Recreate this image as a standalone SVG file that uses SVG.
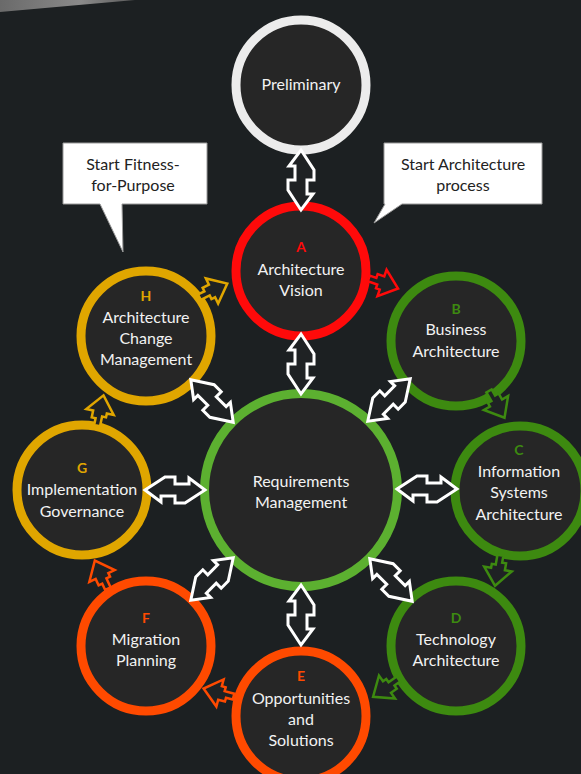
<svg xmlns="http://www.w3.org/2000/svg" width="581" height="774" viewBox="0 0 581 774">
<defs>
<linearGradient id="sw" x1="0" y1="0" x2="1" y2="0"><stop offset="0" stop-color="#6a6a6a"/><stop offset="0.6" stop-color="#8a8a8a"/><stop offset="1" stop-color="#5a5a5a"/></linearGradient>
<path id="dbl" d="M-30,0 L-10,-13 L0,-13 L0,-6 L14,-6 L14,-12 L30,0 L10,13 L0,13 L0,6 L-14,6 L-14,12 Z"/>
<path id="sgl" d="M-14,-3 L-7,-3 L-7,-7 L0,-7 L0,-14 L17,0 L0,14 L0,7 L-4,7 L-4,3 L-14,3 Z"/>
</defs>
<style>
.ring{fill:#262626;stroke-width:9}
.t{font-family:Lato,"Noto Sans",sans-serif;font-size:16px;fill:#f2f2f2;text-anchor:middle}
.l{font-family:Lato,"Noto Sans",sans-serif;font-size:14px;font-weight:bold;text-anchor:middle}
.c{font-family:Lato,"Noto Sans",sans-serif;font-size:16px;fill:#222;text-anchor:middle}
.da{fill:#1f2224;stroke:#ffffff;stroke-width:3;stroke-linejoin:miter}
.sa{fill:#1f2224;stroke-width:2.5;stroke-linejoin:miter}
</style>
<rect x="0" y="0" width="581" height="774" fill="#1c2022"/>
<polygon points="0,0 135,0 0,12" fill="url(#sw)"/>

<g id="callout-left">
<path d="M63,143 H207 V204 H122 L123,252 L100,204 H63 Z" fill="#ffffff" stroke="#9a9a9a" stroke-width="1"/>
<text class="c" x="133" y="170">Start Fitness-</text>
<text class="c" x="133" y="191">for-Purpose</text>
</g>
<g id="callout-right">
<path d="M384,143 H542 V204 H402 L374,223 L385,204 H384 Z" fill="#ffffff" stroke="#9a9a9a" stroke-width="1"/>
<text class="c" x="463" y="170">Start Architecture</text>
<text class="c" x="463" y="191">process</text>
</g>

<g id="preliminary">
<circle class="ring" cx="301" cy="85" r="65" stroke="#ececec"/>
<text class="t" x="301" y="90">Preliminary</text>
</g>
<g id="nodeA">
<circle class="ring" cx="301" cy="271" r="65" stroke="#ff0a0a"/>
<text class="l" x="301" y="252" fill="#ff0a0a">A</text>
<text class="t" x="301" y="275">Architecture</text>
<text class="t" x="301" y="296">Vision</text>
</g>
<g id="nodeB">
<circle class="ring" cx="456" cy="341" r="65" stroke="#3d8a10"/>
<text class="l" x="456" y="314" fill="#3d8a10">B</text>
<text class="t" x="456" y="335">Business</text>
<text class="t" x="456" y="357">Architecture</text>
</g>
<g id="nodeC">
<circle class="ring" cx="520" cy="491" r="65" stroke="#3d8a10"/>
<text class="l" x="519" y="455" fill="#3d8a10">C</text>
<text class="t" x="519" y="477">Information</text>
<text class="t" x="519" y="498">Systems</text>
<text class="t" x="519" y="520">Architecture</text>
</g>
<g id="nodeD">
<circle class="ring" cx="456" cy="646" r="65" stroke="#3d8a10"/>
<text class="l" x="456" y="623" fill="#3d8a10">D</text>
<text class="t" x="456" y="645">Technology</text>
<text class="t" x="456" y="666">Architecture</text>
</g>
<g id="nodeE">
<circle class="ring" cx="301" cy="716" r="65" stroke="#ff4a00"/>
<text class="l" x="301" y="681" fill="#ff4a00">E</text>
<text class="t" x="301" y="704">Opportunities</text>
<text class="t" x="301" y="725">and</text>
<text class="t" x="301" y="746">Solutions</text>
</g>
<g id="nodeF">
<circle class="ring" cx="146" cy="646" r="65" stroke="#ff4a00"/>
<text class="l" x="146" y="623" fill="#ff4a00">F</text>
<text class="t" x="146" y="645">Migration</text>
<text class="t" x="146" y="666">Planning</text>
</g>
<g id="nodeG">
<circle class="ring" cx="82" cy="490" r="65" stroke="#e0a600"/>
<text class="l" x="82" y="473" fill="#e0a600">G</text>
<text class="t" x="82" y="495">Implementation</text>
<text class="t" x="82" y="517">Governance</text>
</g>
<g id="nodeH">
<circle class="ring" cx="146" cy="336" r="65" stroke="#e0a600"/>
<text class="l" x="146" y="301" fill="#e0a600">H</text>
<text class="t" x="146" y="323">Architecture</text>
<text class="t" x="146" y="344">Change</text>
<text class="t" x="146" y="365">Management</text>
</g>
<g id="requirements">
<circle class="ring" cx="301" cy="490" r="96.5" stroke="#5cb030"/>
<text class="t" x="301" y="487">Requirements</text>
<text class="t" x="301" y="508">Management</text>
</g>

<g id="connectors">
<use href="#dbl" class="da" transform="translate(301,180) rotate(90)"/>
<use href="#dbl" class="da" transform="translate(301,364) rotate(90)"/>
<use href="#dbl" class="da" transform="translate(389,400) rotate(-45)"/>
<use href="#dbl" class="da" transform="translate(427,489)"/>
<use href="#dbl" class="da" transform="translate(391,580) rotate(45)"/>
<use href="#dbl" class="da" transform="translate(301,615) rotate(90)"/>
<use href="#dbl" class="da" transform="translate(212,579) rotate(-45)"/>
<use href="#dbl" class="da" transform="translate(175,490)"/>
<use href="#dbl" class="da" transform="translate(212,401) rotate(45)"/>

<use href="#sgl" class="sa" stroke="#ff0a0a" transform="translate(382,283) rotate(19)"/>
<use href="#sgl" class="sa" stroke="#3d8a10" transform="translate(496,403) rotate(60)"/>
<use href="#sgl" class="sa" stroke="#3d8a10" transform="translate(498,569) rotate(100)"/>
<use href="#sgl" class="sa" stroke="#3d8a10" transform="translate(387,687) rotate(145)"/>
<use href="#sgl" class="sa" stroke="#ff4a00" transform="translate(220,693) rotate(-165)"/>
<use href="#sgl" class="sa" stroke="#ff4a00" transform="translate(102,576) rotate(-115)"/>
<use href="#sgl" class="sa" stroke="#e0a600" transform="translate(100,412) rotate(-78)"/>
<use href="#sgl" class="sa" stroke="#e0a600" transform="translate(212,291) rotate(-26)"/>
</g>
</svg>
